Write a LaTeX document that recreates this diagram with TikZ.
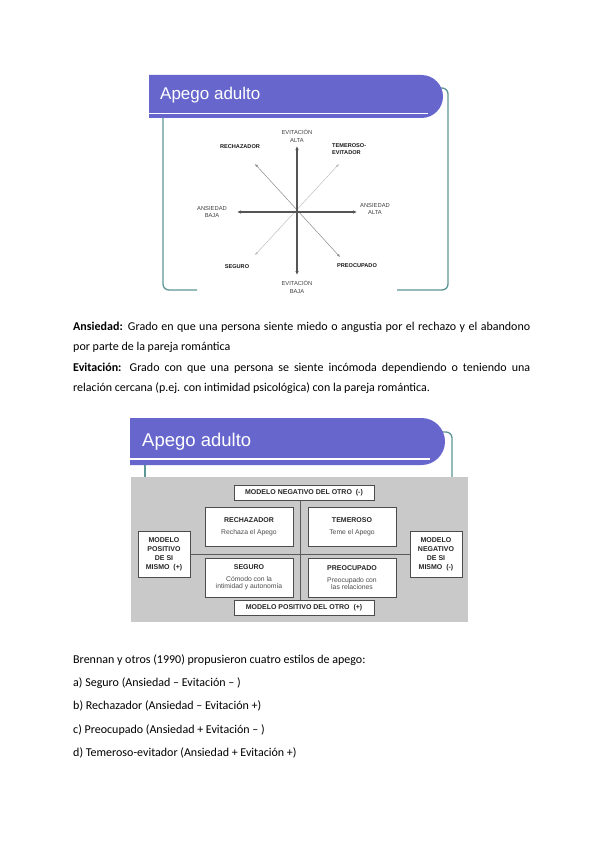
\documentclass[tikz,border=0pt]{standalone}
\usepackage{fontspec}
\setmainfont{Carlito}
\newfontfamily\slidefont{Liberation Sans}
\usetikzlibrary{arrows.meta}
\usetikzlibrary{shadows}
\definecolor{bannerblue}{RGB}{102,102,204}
\definecolor{frameteal}{RGB}{92,150,150}
\definecolor{panelgray}{RGB}{201,201,201}
\definecolor{axisgray}{RGB}{85,85,85}
\newcommand{\subfont}{\slidefont\mdseries\fontsize{6.8}{7.5}\selectfont\color{black!70}}
\tikzset{
  banner/.style={fill=bannerblue},
  bannertitle/.style={anchor=base west,inner sep=0pt,text=white},
  frameline/.style={draw=frameteal,line width=1.3pt,rounded corners=6},
  axisline/.style={draw=axisgray,line width=1.1pt,{Latex[length=4pt,width=3.5pt]}-{Latex[length=4pt,width=3.5pt]}},
  diagline/.style={line width=0.5pt,{Latex[length=3pt,width=2.5pt]}-{Latex[length=3pt,width=2.5pt]}},
  axislabel/.style={font=\slidefont\fontsize{5.8}{7.8}\selectfont,text=black!75,align=center,inner sep=0pt},
  stylelabel/.style={font=\slidefont\bfseries\fontsize{5.6}{7.8}\selectfont,text=black!90,align=center,inner sep=0pt},
  modelbox/.style={draw=black!70,fill=white,line width=0.7pt,inner sep=1pt,align=center,
    font=\slidefont\bfseries\fontsize{7}{9}\selectfont,text=black!85,
    drop shadow={shadow xshift=0.8pt,shadow yshift=-0.8pt,fill=black!55,opacity=0.8}},
  quadbox/.style={modelbox,minimum width=88pt,minimum height=39pt},
  bodytext/.style={anchor=base west,inner sep=0pt,font=\fontsize{12}{14}\selectfont}
}

\begin{document}
\begin{tikzpicture}[x=1pt,y=-1pt]
\fill[white] (0,0) rectangle (600,848);
\useasboundingbox (0,0) rectangle (600,848);

% first slide: axes
\draw[frameline] (197,290) -| (163,118);
\draw[frameline] (438,88) -| (448,290) -- (397,290);
\fill[banner] (149,75) -- (421.5,75) arc[start angle=-90,end angle=90,radius=21.5] -- (149,118) -- cycle;
\draw[white,line width=1.2pt] (149,113.5) -- (428,113.5);
\node[bannertitle,font=\slidefont\fontsize{17}{20}\selectfont] (title1) at (160,99.5) {Apego adulto};

\coordinate (o) at (297,212);
\coordinate (up) at (297,146);
\coordinate (down) at (297,275);
\coordinate (left) at (237,212);
\coordinate (right) at (357,212);
\coordinate (nw) at (255,164);
\coordinate (se) at (340,257);
\coordinate (sw) at (255,255);
\coordinate (ne) at (339,164);
\draw[diagline,draw=black!25] (sw) -- (ne);
\draw[diagline,draw=black!45] (nw) -- (se);
\draw[axisline] (down) -- (up);
\draw[axisline] (left) -- (right);

\node[axislabel] (evalta) at (297,136) {EVITACIÓN\\ALTA};
\node[axislabel] (evbaja) at (297,287) {EVITACIÓN\\BAJA};
\node[axislabel] (anbaja) at (212,212) {ANSIEDAD\\BAJA};
\node[axislabel] (analta) at (375,209) {ANSIEDAD\\ALTA};
\node[stylelabel] (rech) at (240,147) {RECHAZADOR};
\node[stylelabel,align=left,anchor=west] (temev) at (332,149) {TEMEROSO-\\EVITADOR};
\node[stylelabel] (seg) at (237,267) {SEGURO};
\node[stylelabel] (preo) at (357,266) {PREOCUPADO};

% definitions
\node[bodytext] (ans1) at (73,330) {\makebox[457pt][s]{\textbf{Ansiedad:} Grado en que una persona siente miedo o angustia por el rechazo y el abandono}};
\node[bodytext] (ans2) at (73,350.5) {por parte de la pareja romántica};
\node[bodytext] (evi1) at (73,371) {\makebox[457pt][s]{\textbf{Evitación:} Grado con que una persona se siente incómoda dependiendo o teniendo una}};
\node[bodytext] (evi2) at (73,391.5) {relación cercana (p.ej. con intimidad psicológica) con la pareja romántica.};

% second slide: models
\draw[frameline] (145,465) -- (145,477);
\draw[frameline] (440,432) -| (452,477);
\fill[banner] (130,418) -- (421.5,418) arc[start angle=-90,end angle=90,radius=23.5] -- (130,465) -- cycle;
\draw[white,line width=1.3pt] (130,459) -- (430,459);
\node[bannertitle,font=\slidefont\fontsize{18.5}{22}\selectfont] (title2) at (142,446) {Apego adulto};
\fill[panelgray] (131,477) rectangle (468,622);

\node[modelbox,minimum width=140pt,minimum height=15pt] (otroneg) at (304,492.5) {MODELO NEGATIVO DEL OTRO \ (-)};
\node[modelbox,minimum width=140pt,minimum height=15pt] (otropos) at (304,607.5) {MODELO POSITIVO DEL OTRO \ (+)};
\node[modelbox,minimum width=52pt,minimum height=46pt] (mismopos) at (164,554) {MODELO\\POSITIVO\\DE SI\\MISMO \ (+)};
\node[modelbox,minimum width=52pt,minimum height=46pt] (mismoneg) at (436,554) {MODELO\\NEGATIVO\\DE SI\\MISMO \ (-)};
\node[quadbox] (qrech) at (249,526.5) {RECHAZADOR\\[3pt]{\subfont Rechaza el Apego}};
\node[quadbox] (qtem) at (352,526.5) {TEMEROSO\\[3pt]{\subfont Teme el Apego}};
\node[quadbox] (qseg) at (249,577.5) {SEGURO\\[3pt]{\subfont Cómodo con la}\\[-1.5pt]{\subfont intimidad y autonomía}};
\node[quadbox] (qpreo) at (352,577.5) {PREOCUPADO\\[3pt]{\subfont Preocupado con}\\[-1.5pt]{\subfont las relaciones}};
\coordinate (vx) at (300,0);
\draw[draw=black!65,line width=0.7pt] (otroneg.south -| vx) -- (otropos.north -| vx);
\draw[draw=black!65,line width=0.7pt] (mismopos.east) -- (mismoneg.west);

% styles list
\node[bodytext] (bren) at (73,663) {Brennan y otros (1990) propusieron cuatro estilos de apego:};
\node[bodytext] (ia) at (73,686.5) {a) Seguro (Ansiedad – Evitación – )};
\node[bodytext] (ib) at (73,709.5) {b) Rechazador (Ansiedad – Evitación +)};
\node[bodytext] (ic) at (73,733) {c) Preocupado (Ansiedad + Evitación – )};
\node[bodytext] (id) at (73,756) {d) Temeroso-evitador (Ansiedad + Evitación +)};
\end{tikzpicture}
\end{document}
